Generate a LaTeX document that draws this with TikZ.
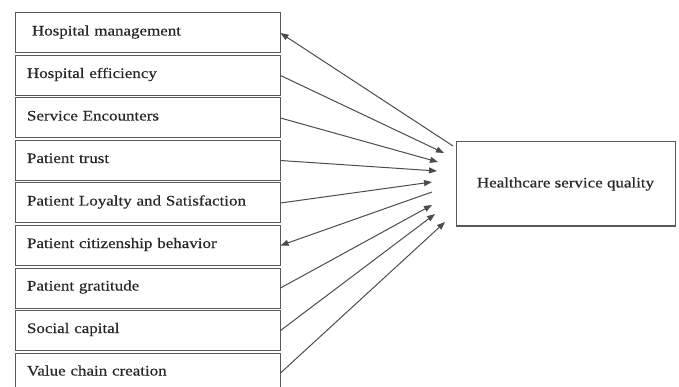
\documentclass[tikz,border=0pt]{standalone}
\usepackage{fontspec}
\setmainfont{Liberation Serif}[FakeStretch=1.17,FakeBold=0.4]
\usetikzlibrary{arrows.meta,positioning,chains}

\begin{document}
\begin{tikzpicture}[x=1pt,y=-1pt,
    every node/.style={draw=black!65,line width=1pt,text=black!85,font=\fontsize{14.5}{17}\selectfont},
    fbox/.style={minimum width=265pt,minimum height=40pt,text width=241pt,align=left,inner xsep=12pt,
        text height=11pt,text depth=6pt},
    qbox/.style={minimum width=219pt,minimum height=84pt},
    link/.style={draw=black!70,line width=1pt,-{Triangle[length=8pt,width=6pt]}}
    ]
    \useasboundingbox (0,0) rectangle (679,387);

    % the factors
    \begin{scope}[shift={(147.5,33)},start chain=going below,node distance=1.5pt]
    \foreach \t [count=\i] in {\hspace{5pt}Hospital management,Hospital efficiency,Service Encounters,
        Patient trust,Patient Loyalty and Satisfaction,Patient citizenship behavior,
        Patient gratitude,Social capital,Value chain creation}
    \node[fbox,on chain] (c\i) {\t};
    \end{scope}

    % the outcome
    \node[qbox] (hsq) at (565.5,184) {Healthcare service quality};

    % the arrow tips in front of the outcome
    \foreach \i/\x/\y in {1/453/146,2/444/153,3/438/162,4/437/171,5/432/182,
        6/432/192,7/432/205,8/435/214,9/445/222}
    \coordinate (t\i) at (\x,\y);

    % the edges
    \foreach \i in {2,3,4,5,7,8,9}
    \draw[link] (c\i.east) -- (t\i);
    \draw[link,{Triangle[length=8pt,width=6pt]}-] (c1.east) -- (t1);
    \draw[link,{Triangle[length=8pt,width=6pt]}-] (c6.east) -- (t6);
\end{tikzpicture}
\end{document}
